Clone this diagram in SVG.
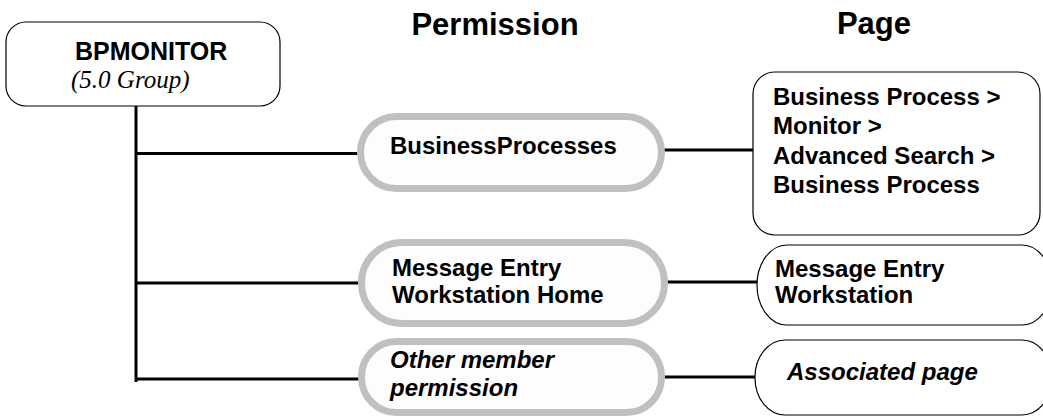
<svg xmlns="http://www.w3.org/2000/svg" width="1043" height="419" viewBox="0 0 1043 419">
<style>
.bg{fill:#ffffff}
.grp{fill:#ffffff;stroke:#000;stroke-width:1.2}
.perm{fill:#fdfdfd;stroke:#c0c0c0;stroke-width:7}
.page{fill:#ffffff;stroke:#000;stroke-width:1.2}
.conn{stroke:#000;stroke-width:3;fill:none}
.t{font-family:"Liberation Sans",Arial,sans-serif;font-weight:bold;font-size:24px;fill:#000}
.it{font-style:italic}
.hd{font-family:"Liberation Sans",Arial,sans-serif;font-weight:bold;font-size:31px;fill:#000;text-anchor:middle}
.ser{font-family:"Liberation Serif","Times New Roman",serif;font-style:italic;font-size:25px;fill:#000}
</style>
<rect class="bg" x="0" y="0" width="1043" height="419"/>
<g id="headers">
<text class="hd" x="495" y="35">Permission</text>
<text class="hd" x="874" y="34">Page</text>
</g>
<g id="connectors">
<line class="conn" x1="136" y1="106" x2="136" y2="382"/>
<line class="conn" x1="136" y1="153.5" x2="362" y2="153.5"/>
<line class="conn" x1="136" y1="283" x2="364" y2="283"/>
<line class="conn" x1="136" y1="379" x2="363" y2="379"/>
<line class="conn" x1="664" y1="150" x2="753" y2="150"/>
<line class="conn" x1="666" y1="282" x2="757" y2="282"/>
<line class="conn" x1="664" y1="377" x2="755" y2="377"/>
</g>
<g id="bpmonitor">
<rect class="grp" x="6" y="22" width="274" height="84" rx="20" ry="20"/>
<text class="t" x="75" y="60" style="font-size:25px">BPMONITOR</text>
<text class="ser" x="71" y="88">(5.0 Group)</text>
</g>
<g id="perm-businessprocesses">
<rect class="perm" x="360.5" y="116.5" width="301" height="72" rx="36" ry="36"/>
<text class="t" x="390" y="154">BusinessProcesses</text>
</g>
<g id="perm-messageentry">
<rect class="perm" x="361.5" y="242.5" width="303" height="81" rx="40" ry="40"/>
<text class="t" x="392" y="276">Message Entry</text>
<text class="t" x="392" y="303">Workstation Home</text>
</g>
<g id="perm-other">
<rect class="perm" x="361.5" y="341.5" width="300" height="71" rx="35" ry="35"/>
<text class="t it" x="390" y="368">Other member</text>
<text class="t it" x="390" y="396">permission</text>
</g>
<g id="page-businessprocess">
<rect class="page" x="753" y="72" width="287" height="163" rx="22" ry="22"/>
<text class="t" x="773" y="105">Business Process &gt;</text>
<text class="t" x="773" y="134">Monitor &gt;</text>
<text class="t" x="773" y="164">Advanced Search &gt;</text>
<text class="t" x="773" y="193">Business Process</text>
</g>
<g id="page-messageentry">
<rect class="page" x="757" y="245" width="295" height="80" rx="30" ry="40"/>
<text class="t" x="775" y="277">Message Entry</text>
<text class="t" x="775" y="303">Workstation</text>
</g>
<g id="page-associated">
<rect class="page" x="755" y="340" width="297" height="75" rx="30" ry="37"/>
<text class="t it" x="787" y="380">Associated page</text>
</g>
</svg>
